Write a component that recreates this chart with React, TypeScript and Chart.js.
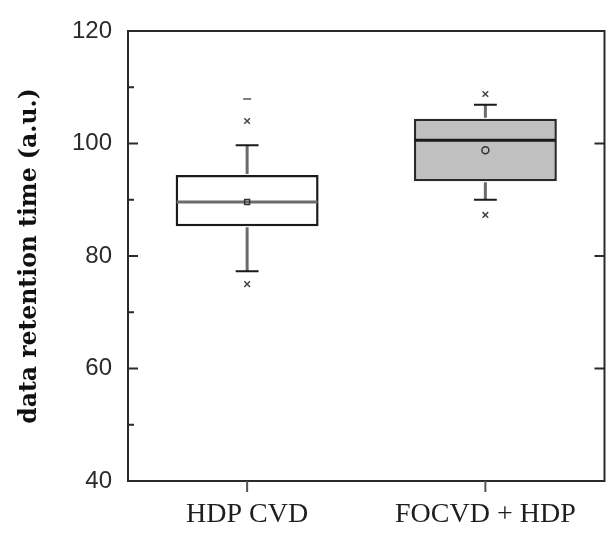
import React, { useEffect, useRef } from "react";
import { Chart, registerables } from "chart.js";

Chart.register(...registerables);

const categories = ["HDP CVD", "FOCVD + HDP"];
const q1 = [85.3, 93.3];
const q3 = [94.4, 104.4];
const median = [89.6, 100.6];
const mean = [89.6, 98.8];
const whiskerLow = [77.3, 90.0];
const whiskerHigh = [99.7, 106.9];
const pctLow = [75.0, 87.3];
const pctHigh = [104.0, 108.8];
const maxMark = [107.9, null];
const yMin = 40;
const yMax = 120;
const yStep = 20;
const yMinorTicks = [50, 70, 90, 110];

const boxFill = ["#ffffff", "#c0c0c0"];
const boxBorder = ["#1a1a1a", "#2a2a2a"];
const medianColor = ["#6b6b6b", "#1a1a1a"];

const boxDecor = {
  id: "boxDecor",
  afterDatasetDraw(chart: any, args: any) {
    if (args.index !== 0) return;
    const ctx = chart.ctx;
    const xs = chart.scales.x;
    const ys = chart.scales.y;
    const meta = chart.getDatasetMeta(0);
    ctx.save();
    categories.forEach((_, i) => {
      const cx = xs.getPixelForValue(i);
      const half = meta.data[i].width / 2;
      const capHalf = half * 0.16;
      ctx.strokeStyle = "#6b6b6b";
      ctx.lineWidth = 3;
      ctx.beginPath();
      ctx.moveTo(cx, ys.getPixelForValue(q3[i]) - 1);
      ctx.lineTo(cx, ys.getPixelForValue(whiskerHigh[i]));
      ctx.moveTo(cx, ys.getPixelForValue(q1[i]) + 1);
      ctx.lineTo(cx, ys.getPixelForValue(whiskerLow[i]));
      ctx.stroke();
      ctx.strokeStyle = "#1a1a1a";
      ctx.lineWidth = 2;
      ctx.beginPath();
      [whiskerHigh[i], whiskerLow[i]].forEach((v) => {
        const y = ys.getPixelForValue(v);
        ctx.moveTo(cx - capHalf, y);
        ctx.lineTo(cx + capHalf, y);
      });
      ctx.stroke();
      ctx.strokeStyle = medianColor[i];
      ctx.lineWidth = 3;
      ctx.beginPath();
      const my = ys.getPixelForValue(median[i]);
      ctx.moveTo(cx - half + 1, my);
      ctx.lineTo(cx + half - 1, my);
      ctx.stroke();
    });
    ctx.restore();
  },
  afterDraw(chart: any) {
    const ctx = chart.ctx;
    const a = chart.chartArea;
    const xs = chart.scales.x;
    const ys = chart.scales.y;
    ctx.save();
    ctx.strokeStyle = "#2a2a2a";
    ctx.lineWidth = 2;
    ctx.strokeRect(a.left, a.top, a.right - a.left, a.bottom - a.top);
    ctx.beginPath();
    ys.ticks.forEach((t: any) => {
      const y = ys.getPixelForValue(t.value);
      ctx.moveTo(a.left, y);
      ctx.lineTo(a.left + 10, y);
      ctx.moveTo(a.right, y);
      ctx.lineTo(a.right - 10, y);
    });
    yMinorTicks.forEach((v) => {
      const y = ys.getPixelForValue(v);
      ctx.moveTo(a.left, y);
      ctx.lineTo(a.left + 6, y);
    });
    ctx.stroke();
    ctx.strokeStyle = "#555555";
    ctx.beginPath();
    categories.forEach((_, i) => {
      const x = xs.getPixelForValue(i);
      ctx.moveTo(x, a.bottom);
      ctx.lineTo(x, a.bottom + 11);
    });
    ctx.stroke();
    ctx.restore();
  },
};

export default function App() {
  const ref = useRef<HTMLCanvasElement>(null);
  useEffect(() => {
    if (!ref.current) return;
    const chart = new Chart(ref.current, {
      type: "bar",
      data: {
        labels: categories,
        datasets: [
          {
            type: "bar",
            data: categories.map((_, i) => [q1[i], q3[i]]),
            backgroundColor: boxFill,
            borderColor: boxBorder,
            borderWidth: 2.5,
            borderSkipped: false,
            barPercentage: 0.6,
            categoryPercentage: 1,
            order: 2,
          } as any,
          {
            type: "line",
            data: mean,
            showLine: false,
            pointStyle: ["rect", "circle"],
            pointRadius: 3.5,
            pointBorderWidth: 1.5,
            pointBorderColor: "#333333",
            pointBackgroundColor: "rgba(0,0,0,0)",
            order: 1,
          } as any,
          {
            type: "line",
            data: pctLow,
            showLine: false,
            pointStyle: "crossRot",
            pointRadius: 4,
            pointBorderWidth: 1.5,
            pointBorderColor: "#444444",
            order: 1,
          } as any,
          {
            type: "line",
            data: pctHigh,
            showLine: false,
            pointStyle: "crossRot",
            pointRadius: 4,
            pointBorderWidth: 1.5,
            pointBorderColor: "#444444",
            order: 1,
          } as any,
          {
            type: "line",
            data: maxMark,
            showLine: false,
            pointStyle: "line",
            pointRadius: 4,
            pointBorderWidth: 1.5,
            pointBorderColor: "#555555",
            order: 1,
          } as any,
        ],
      },
      options: {
        animation: false,
        responsive: false,
        events: [],
        layout: { padding: { left: 0, right: 5, top: 31, bottom: 0 } },
        plugins: { legend: { display: false }, tooltip: { enabled: false } },
        scales: {
          x: {
            type: "category",
            offset: true,
            grid: { display: false, drawTicks: false },
            border: { display: false },
            ticks: {
              padding: 17,
              color: "#1e1e1e",
              font: { family: "'Liberation Serif', 'Times New Roman', serif", size: 28 },
            },
            afterFit: (s: any) => {
              s.height = 60;
            },
          },
          y: {
            min: yMin,
            max: yMax,
            grid: { display: false, drawTicks: false },
            border: { display: false },
            ticks: {
              stepSize: yStep,
              padding: 16,
              color: "#2a2a2a",
              font: { family: "'Liberation Sans', Arial, sans-serif", size: 24 },
            },
            title: {
              display: true,
              text: "data retention time (a.u.)",
              color: "#111111",
              padding: { top: 16, bottom: 0 },
              font: { family: "'DejaVu Serif', serif", size: 23.5, weight: "bold" },
            },
            afterFit: (s: any) => {
              s.width = 128;
            },
          },
        },
      },
      plugins: [boxDecor],
    });
    return () => chart.destroy();
  }, []);
  return (
    <div style={{ position: "absolute", left: 0, top: 0, width: 610, height: 541, background: "#ffffff" }}>
      <canvas ref={ref} width={610} height={541} />
    </div>
  );
}
